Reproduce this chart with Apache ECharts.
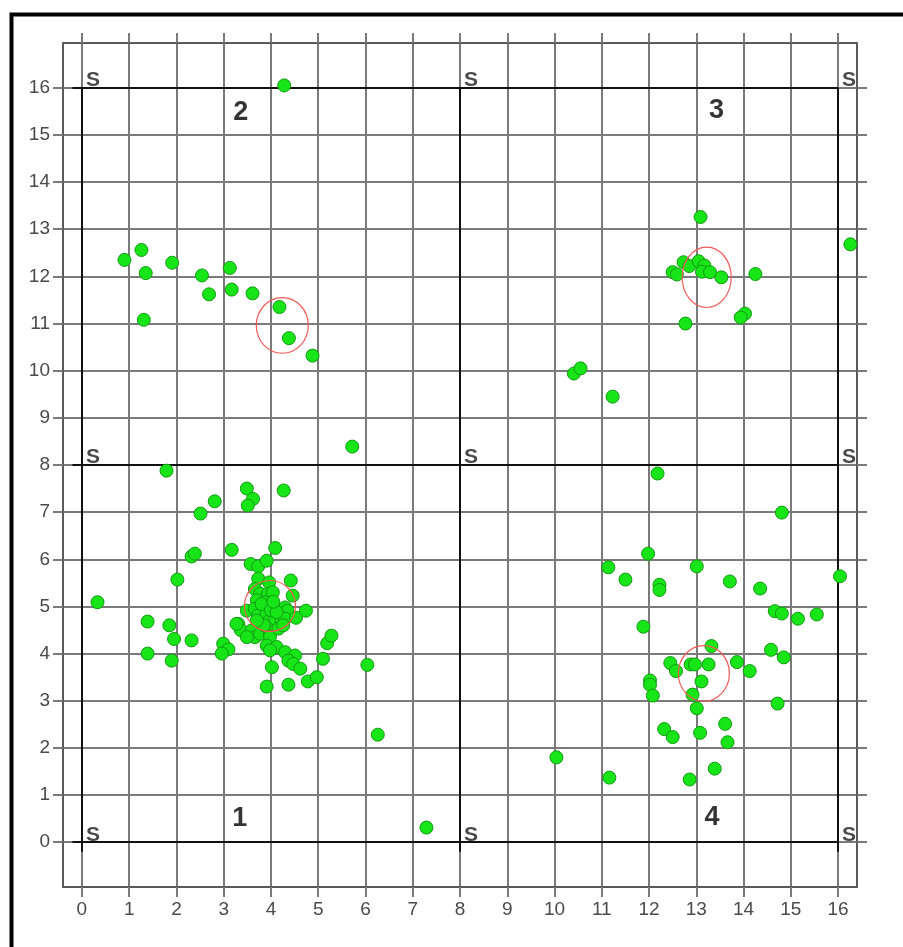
<!DOCTYPE html>
<html>
<head>
<meta charset="utf-8">
<script src="https://cdn.jsdelivr.net/npm/echarts@6/dist/echarts.min.js"></script>
<style>
html,body{margin:0;padding:0;background:#fff;}
#c{width:903px;height:947px;}
</style>
</head>
<body>
<div id="c"></div>
<script>
// ---- tick labels ----
var xTicks = [0,1,2,3,4,5,6,7,8,9,10,11,12,13,14,15,16];
var yTicks = [0,1,2,3,4,5,6,7,8,9,10,11,12,13,14,15,16];

// ---- quadrant boundaries (S lines) ----
var bounds = [0, 8, 16];

// ---- quadrant numbers ----
var quadNames = ['1', '2', '3', '4'];
var quadNamePos = [[3.34, 0.50], [3.36, 15.48], [13.43, 15.51], [13.33, 0.52]];

// ---- cluster centres (red ellipses): [x, y, rx, ry] ----
var centres = [[3.98, 5.01, 0.54, 0.54], [4.24, 10.96, 0.55, 0.59], [13.22, 11.98, 0.52, 0.64], [13.16, 3.58, 0.54, 0.59]];

// ---- points ----
var q1Points = [
 [0.33,5.09],[1.79,7.88],[2.81,7.23],[2.51,6.97],[3.49,7.50],[3.62,7.28],[3.51,7.14],[4.27,7.46],
 [2.32,6.06],[2.39,6.12],[3.17,6.20],[4.09,6.24],[2.02,5.57],[3.57,5.90],[3.73,5.85],[3.91,5.97],
 [4.42,5.55],[3.73,5.59],[3.96,5.51],[3.66,5.37],[3.77,5.27],[3.94,5.27],[4.04,5.30],[4.46,5.23],
 [3.70,5.13],[3.87,5.09],[4.30,4.98],[4.35,4.91],[3.49,4.91],[3.66,4.95],[3.73,4.81],[3.91,4.84],
 [3.94,4.67],[4.09,4.74],[4.23,4.70],[4.30,4.74],[4.53,4.76],[4.74,4.91],[3.31,4.63],[3.36,4.50],
 [3.59,4.49],[3.66,4.35],[3.77,4.42],[3.98,4.45],[3.98,4.36],[3.49,4.35],[4.16,4.53],[4.26,4.60],
 [3.80,5.05],[4.00,4.92],[3.85,4.60],[4.12,4.88],[3.70,4.70],[4.05,5.10],
 [3.91,4.17],[4.12,4.14],[3.98,4.07],[4.30,4.03],[4.51,3.96],[4.37,3.85],[4.47,3.78],[4.62,3.68],
 [4.02,3.71],[3.91,3.30],[4.37,3.34],[4.78,3.41],[4.97,3.50],[5.10,3.89],[5.19,4.22],[5.28,4.38],
 [2.99,4.21],[3.10,4.09],[2.96,4.00],[3.27,4.63],[1.39,4.68],[1.85,4.60],[1.95,4.31],[2.32,4.28],
 [1.39,4.00],[1.90,3.85],[6.04,3.76],[6.26,2.28],[7.29,0.31]
];
var q2Points = [
 [0.90,12.35],[1.26,12.56],[1.35,12.07],[1.91,12.29],[2.54,12.02],[3.13,12.18],[2.69,11.62],
 [3.17,11.72],[3.61,11.64],[1.31,11.08],[4.18,11.35],[4.38,10.69],[4.88,10.32],[4.28,16.05],[5.72,8.39]
];
var q3Points = [
 [16.26,12.68],[13.09,13.26],[12.73,12.30],[12.85,12.22],[12.50,12.09],[12.59,12.04],[13.05,12.32],
 [13.17,12.23],[13.12,12.10],[13.29,12.09],[13.53,11.98],[14.25,12.05],[14.03,11.21],[13.94,11.13],
 [12.77,11.00],[10.41,9.94],[10.55,10.05],[11.23,9.45]
];
var q4Points = [
 [12.18,7.82],[14.81,6.99],[16.04,5.64],[11.98,6.12],[11.14,5.83],[11.50,5.57],[12.22,5.46],[12.22,5.35],
 [13.01,5.85],[13.71,5.53],[14.35,5.38],[14.66,4.90],[14.81,4.85],[15.15,4.74],[15.55,4.83],[11.88,4.57],
 [14.58,4.08],[14.85,3.92],[13.32,4.16],[12.45,3.80],[12.57,3.63],[12.88,3.77],[12.97,3.77],[13.26,3.77],
 [13.86,3.82],[14.13,3.63],[12.02,3.43],[12.02,3.34],[12.08,3.11],[13.11,3.41],[12.92,3.13],[13.01,2.84],
 [12.32,2.40],[12.50,2.23],[13.08,2.32],[13.61,2.51],[13.66,2.12],[14.72,2.94],[10.04,1.80],[11.16,1.37],
 [12.86,1.33],[13.39,1.56]
];

// ---- build derived structures ----
var sLines = [];
bounds.forEach(function (v) {
  sLines.push({coords: [[v, -0.2], [v, 16]]});
  sLines.push({coords: [[-0.2, v], [16, v]]});
});
var sMarks = [];
bounds.forEach(function (x) { bounds.forEach(function (y) { sMarks.push([x, y]); }); });
var quadData = quadNames.map(function (n, i) { return {value: quadNamePos[i], name: n}; });

var gridLineStyle = {color: '#7a7a7a', width: 2};
var frameLineStyle = {color: '#5a5a5a', width: 2};

function pointSeries(data) {
  return {
    type: 'scatter', data: data, symbolSize: 13, z: 5, silent: true,
    itemStyle: {color: '#17e517', borderColor: '#139a13', borderWidth: 1, opacity: 1}
  };
}

var chart = echarts.init(document.getElementById('c'));
chart.setOption({
  animation: false,
  backgroundColor: '#fff',
  graphic: [{
    type: 'rect', left: 9, top: 12, shape: {width: 1000, height: 1000},
    style: {fill: 'none', stroke: '#000', lineWidth: 4}, z: 100
  }],
  grid: {left: 63, right: 46, top: 43, bottom: 60},
  xAxis: [{
    type: 'value', position: 'bottom', min: -0.4, max: 16.4,
    axisLine: {show: true, onZero: false, lineStyle: frameLineStyle},
    axisTick: {show: true, inside: false, length: 10, customValues: xTicks, lineStyle: gridLineStyle},
    axisLabel: {show: true, customValues: xTicks, margin: 13, color: '#4a4a4a', fontSize: 19, fontFamily: 'Liberation Sans'},
    splitLine: {show: true, lineStyle: gridLineStyle}
  }, {
    type: 'value', position: 'top', min: -0.4, max: 16.4,
    axisLine: {show: true, onZero: false, lineStyle: frameLineStyle},
    axisTick: {show: true, inside: false, length: 10, customValues: xTicks, lineStyle: gridLineStyle},
    axisLabel: {show: false},
    splitLine: {show: false}
  }],
  yAxis: [{
    type: 'value', position: 'left', min: -0.95, max: 16.95,
    axisLine: {show: true, onZero: false, lineStyle: frameLineStyle},
    axisTick: {show: true, inside: false, length: 10, customValues: yTicks, lineStyle: gridLineStyle},
    axisLabel: {show: true, customValues: yTicks, margin: 13, color: '#4a4a4a', fontSize: 19, fontFamily: 'Liberation Sans'},
    splitLine: {show: true, lineStyle: gridLineStyle}
  }, {
    type: 'value', position: 'right', min: -0.95, max: 16.95,
    axisLine: {show: true, onZero: false, lineStyle: frameLineStyle},
    axisTick: {show: true, inside: false, length: 10, customValues: yTicks, lineStyle: gridLineStyle},
    axisLabel: {show: false},
    splitLine: {show: false}
  }],
  series: [
    {
      type: 'lines', coordinateSystem: 'cartesian2d', data: sLines, z: 3, silent: true,
      lineStyle: {color: '#111', width: 2, opacity: 1}
    },
    {
      type: 'scatter', data: sMarks, symbolSize: 0, z: 4, silent: true,
      label: {show: true, formatter: 'S', position: [4, 3], align: 'left', verticalAlign: 'bottom',
        fontSize: 21, fontWeight: 'bold', color: '#1a1a1a', fontFamily: 'Liberation Sans'}
    },
    {
      type: 'scatter', data: quadData, symbolSize: 0, z: 4, silent: true,
      label: {show: true, formatter: '{b}', position: 'inside', fontSize: 27, fontWeight: 'bold',
        color: '#000', fontFamily: 'Liberation Sans'}
    },
    pointSeries(q1Points),
    pointSeries(q2Points),
    pointSeries(q3Points),
    pointSeries(q4Points),
    {
      type: 'custom', data: centres, z: 6, silent: true,
      renderItem: function (params, api) {
        var c = api.coord([api.value(0), api.value(1)]);
        var s = api.size([api.value(2), api.value(3)]);
        return {
          type: 'ellipse',
          shape: {cx: c[0], cy: c[1], rx: s[0], ry: s[1]},
          style: {fill: 'none', stroke: '#f25a5a', lineWidth: 1.2}
        };
      }
    }
  ]
});
</script>
</body>
</html>
